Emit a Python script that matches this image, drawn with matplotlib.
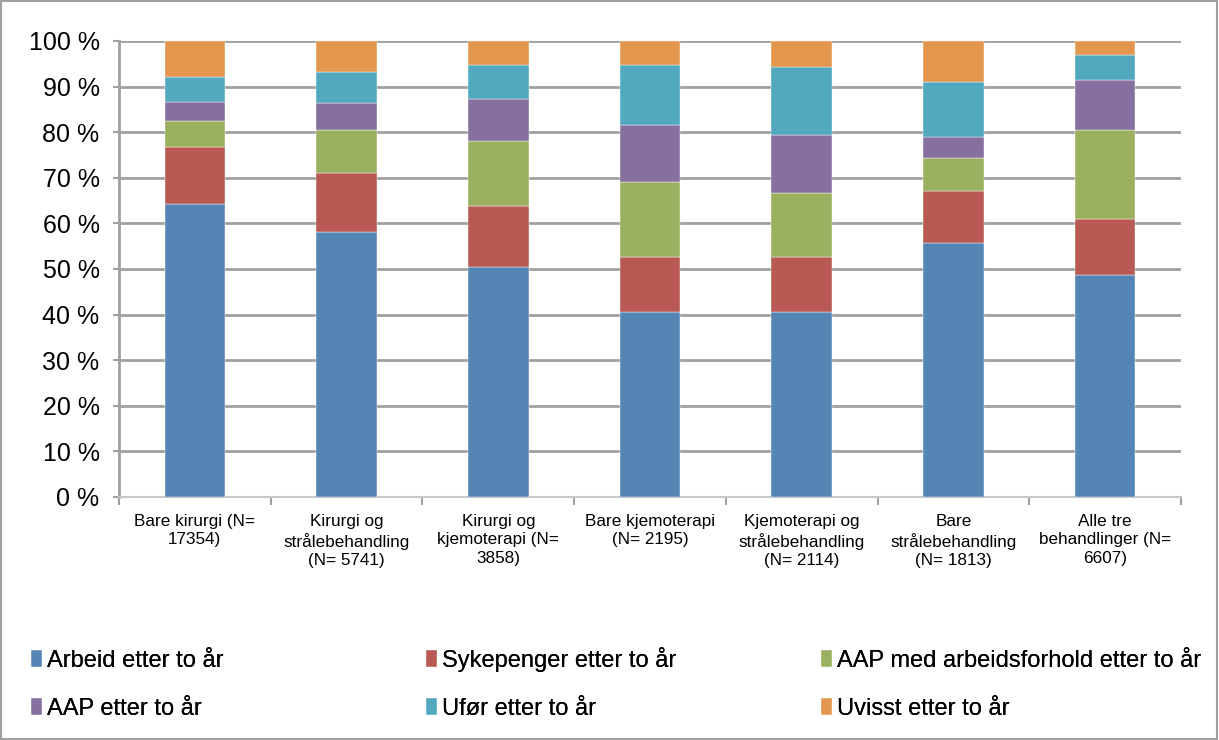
import matplotlib.pyplot as plt
from matplotlib.patches import Rectangle

plt.rcParams['font.family'] = ['Liberation Sans', 'DejaVu Sans']

# categories (x axis)
categories = ["Bare kirurgi (N=\n17354)",
              "Kirurgi og\nstrålebehandling\n(N= 5741)",
              "Kirurgi og\nkjemoterapi (N=\n3858)",
              "Bare kjemoterapi\n(N= 2195)",
              "Kjemoterapi og\nstrålebehandling\n(N= 2114)",
              "Bare\nstrålebehandling\n(N= 1813)",
              "Alle tre\nbehandlinger (N=\n6607)"]

# shares in percent
arbeid     = [64.3, 58.1, 50.4, 40.6, 40.6, 55.7, 48.6]
sykepenger = [12.4, 13.0, 13.4, 12.1, 12.1, 11.3, 12.4]
aap_arb    = [5.8, 9.3, 14.2, 16.4, 14.0, 7.4, 19.5]
aap        = [4.2, 6.1, 9.2, 12.5, 12.7, 4.6, 11.0]
ufor       = [5.5, 6.8, 7.5, 13.2, 14.9, 11.9, 5.5]
uvisst     = [7.8, 6.7, 5.3, 5.2, 5.7, 9.1, 3.0]

series = [("Arbeid etter to år", arbeid, "#5585b5"),
          ("Sykepenger etter to år", sykepenger, "#b85a53"),
          ("AAP med arbeidsforhold etter to år", aap_arb, "#9bb05e"),
          ("AAP etter to år", aap, "#85709f"),
          ("Ufør etter to år", ufor, "#51a8bf"),
          ("Uvisst etter to år", uvisst, "#e3964e")]

fig = plt.figure(figsize=(12.19, 7.40), dpi=100)
# plot area: x 119..1181 px, y 41..497 px
ax = fig.add_axes([119 / 1219, (740 - 497) / 740, 1062 / 1219, 456 / 740])

x = list(range(len(categories)))
bottom = [0.0] * len(categories)
handles = []
for name, vals, col in series:
    b = ax.bar(x, vals, width=0.4, bottom=bottom, color=col, label=name,
               edgecolor="white", linewidth=0.3, zorder=3)
    handles.append(b)
    bottom = [bb + v for bb, v in zip(bottom, vals)]

#axes
ax.set_xlim(-0.5, len(categories) - 0.5)
ax.set_ylim(0, 100)
ax.set_yticks(range(0, 101, 10))
ax.set_yticklabels(["{} %".format(v) for v in range(0, 101, 10)], fontsize=18)
ax.yaxis.grid(True, color="#a0a0a0", linewidth=2, zorder=0)
ax.set_axisbelow(True)
ax.tick_params(axis="y", length=4, width=1.5, color="#a0a0a0", pad=10)

ax.set_xticks(x)
ax.set_xticklabels(categories, fontsize=12.3)
for t in ax.get_xticklabels():
    t.set_linespacing(1.3)
ax.set_xticks([i - 0.5 for i in range(len(categories) + 1)], minor=True)
ax.tick_params(axis="x", which="major", length=0, pad=12)
ax.tick_params(axis="x", which="minor", length=6, width=1.5, color="#a0a0a0")

for s in ["top", "right"]:
    ax.spines[s].set_visible(False)
ax.spines["left"].set_color("#a0a0a0")
ax.spines["left"].set_linewidth(2)
ax.spines["bottom"].set_color("#c8c8c8")
ax.spines["bottom"].set_linewidth(1.5)

#legend, three columns
cols_x = [0.018, 0.342, 0.666]
cols_y = [0.135, 0.139, 0.135]
for i in range(3):
    lg = fig.legend([handles[i], handles[i + 3]],
                    [series[i][0], series[i + 3][0]],
                    loc="upper left", bbox_to_anchor=(cols_x[i], cols_y[i]),
                    frameon=False, fontsize=17, handlelength=0.45,
                    handleheight=0.7, handletextpad=0.2, labelspacing=1.1,
                    borderaxespad=0)
    fig.add_artist(lg)

#frame around figure
fig.add_artist(Rectangle((0.001, 0.001), 0.997, 0.997, transform=fig.transFigure,
                         fill=False, edgecolor="#a0a0a0", linewidth=1.5))

fig.savefig("out.png", dpi=100)
